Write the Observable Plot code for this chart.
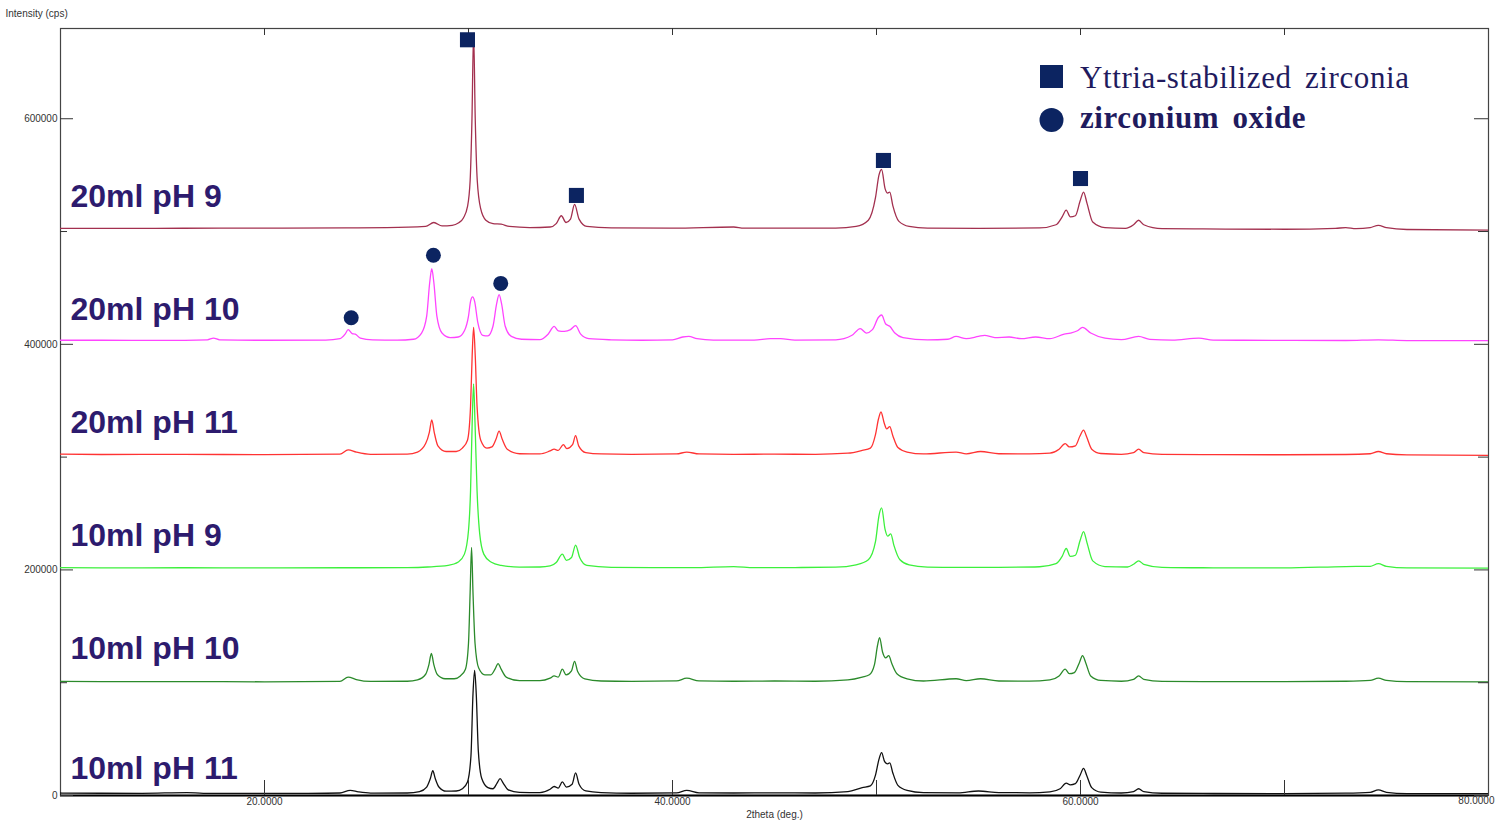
<!DOCTYPE html>
<html>
<head>
<meta charset="utf-8">
<script src="https://cdn.jsdelivr.net/npm/d3@7"></script>
<script src="https://cdn.jsdelivr.net/npm/@observablehq/plot@0.6"></script>
<style>
  html, body { margin: 0; padding: 0; background: #fff; }
  #wrap { position: relative; width: 1495px; height: 830px; overflow: hidden; }
  #overlay { position: absolute; left: 0; top: 0; pointer-events: none; }
</style>
</head>
<body>
<div id="wrap"></div>
<script>
// ---- Data (2theta in degrees, raw intensity in cps) ----
const seriesNames = ["20ml pH 9", "20ml pH 10", "20ml pH 11", "10ml pH 9", "10ml pH 10", "10ml pH 11"];
const offsets = [500000, 400000, 300000, 200000, 100000, 0];
const colors = ["#a3304f", "#ff44ff", "#ff3333", "#3cf03c", "#2b8a2b", "#111111"];

const s20pH9 = [[10,2800],[12,2800],[16,2900],[20,3000],[24,3200],[26,3400],[27.9,4500],[28.3,8000],[28.7,5000],[29.2,5500],[29.5,7500],[29.75,12000],[29.95,22000],[30.08,45000],[30.17,100000],[30.25,176000],[30.33,100000],[30.43,45000],[30.6,20000],[30.85,10000],[31.2,7000],[31.6,6500],[32,4500],[33,3500],[34.0,4000],[34.3,7000],[34.55,14000],[34.78,8000],[35.0,11000],[35.2,24000],[35.42,11000],[35.8,4500],[37,3300],[40,3000],[43.0,4000],[43.5,3000],[46,3000],[48,3100],[49,4500],[49.6,10000],[49.95,30000],[50.12,50000],[50.25,55000],[50.42,38000],[50.55,34000],[50.65,35000],[50.8,23000],[51.1,9000],[51.6,4500],[52.5,3000],[55,2800],[58,3200],[58.8,6000],[59.1,13000],[59.3,19000],[59.5,13000],[59.75,14000],[59.98,27000],[60.15,35000],[60.32,25000],[60.6,8500],[61.2,3500],[62.2,2800],[62.6,6000],[62.85,10000],[63.1,6000],[64,2500],[66,2300],[70,2000],[72.5,2800],[73.0,3500],[73.5,2500],[74.2,3500],[74.6,5500],[75,3500],[76,1800],[80,1300]];

const s20pH10 = [[10,3600],[12,3600],[15,3500],[17.2,4000],[17.5,5500],[17.8,4000],[20,3600],[23,3800],[23.7,5000],[23.95,9000],[24.1,13000],[24.3,9500],[24.45,9000],[24.7,5500],[25.3,4000],[26.5,3700],[27.3,4500],[27.7,10000],[27.95,25000],[28.1,55000],[28.2,67000],[28.3,55000],[28.45,25000],[28.7,10000],[29.1,6000],[29.5,6500],[29.8,12000],[30.0,25000],[30.1,38000],[30.2,42000],[30.3,38000],[30.45,20000],[30.7,8000],[30.95,7500],[31.2,16000],[31.38,36000],[31.5,44000],[31.62,36000],[31.8,16000],[32.1,7000],[32.6,4500],[33.5,4200],[33.9,9000],[34.2,16000],[34.4,12000],[34.7,11500],[35.0,13000],[35.25,16500],[35.5,9000],[35.9,5000],[37,4000],[38.5,3600],[40,4000],[40.5,6500],[40.8,7000],[41.2,5000],[42,3800],[44,3800],[44.8,5000],[45.3,5000],[46,3800],[48,4000],[48.8,8000],[49.2,14000],[49.5,10000],[49.8,13000],[50.1,24000],[50.25,26000],[50.45,18000],[50.65,16000],[50.9,10000],[51.3,6000],[52.5,4000],[53.5,4500],[53.9,7000],[54.4,5000],[55.0,7000],[55.3,8000],[55.8,6000],[56.5,6500],[57.1,5000],[57.8,6500],[58.5,5000],[59.2,9000],[59.5,10000],[59.85,12000],[60.1,15000],[60.5,10000],[61.2,5500],[62,4200],[62.85,7000],[63.4,4300],[64.5,3800],[65.8,5500],[66.5,3800],[68,3600],[70,3500],[73,3400],[74.6,4000],[76,3300],[80,3200]];

const s20pH11 = [[10,2600],[12,2300],[16,2400],[20,2200],[23.7,2600],[24.1,6500],[24.5,4500],[25.2,2500],[27,2700],[27.5,4500],[27.9,12000],[28.08,22000],[28.2,33000],[28.32,22000],[28.5,10000],[28.9,5000],[29.4,5000],[29.7,8000],[29.95,15000],[30.1,45000],[30.18,90000],[30.25,115000],[30.33,90000],[30.42,45000],[30.6,15000],[30.9,8000],[31.15,9000],[31.35,16000],[31.5,23000],[31.65,16000],[31.9,7000],[32.5,3000],[33.5,2800],[34.0,5500],[34.2,7000],[34.4,6000],[34.65,11000],[34.82,7500],[35.1,11000],[35.25,19000],[35.4,10000],[35.75,4000],[36.5,2800],[38,2500],[40.2,2800],[40.7,4500],[41.3,2800],[43,2500],[45,2600],[47,2500],[48.6,3500],[49.3,6000],[49.7,8000],[49.95,20000],[50.1,34000],[50.22,40000],[50.38,30000],[50.5,25000],[50.65,27000],[50.8,19000],[51.05,8500],[51.5,4500],[52.3,2800],[53.9,4500],[54.4,2900],[55.1,5000],[56,3000],[57.5,2800],[58.5,3500],[58.95,7000],[59.25,12000],[59.45,9000],[59.75,10000],[59.98,19000],[60.15,24000],[60.3,18000],[60.55,7000],[61,3200],[62,2500],[62.6,4000],[62.85,7000],[63.1,4000],[64,2400],[66,2200],[70,2100],[73,2300],[74.2,3000],[74.6,5000],[75,3000],[76,2000],[80,1500]];

const s10pH9 = [[10,2000],[12,1800],[16,1900],[20,1800],[24,1900],[27,2100],[28,2600],[29,4000],[29.5,7000],[29.8,14000],[30.0,35000],[30.1,70000],[30.18,130000],[30.25,165000],[30.32,130000],[30.42,70000],[30.55,32000],[30.75,14000],[31.1,7000],[31.6,4000],[32.5,2500],[33.5,2600],[34.0,3500],[34.3,6500],[34.6,14000],[34.8,8500],[35.05,11000],[35.25,22000],[35.45,11000],[35.8,4000],[37,2300],[39,2000],[41,2000],[43,3000],[44,2000],[46,2100],[48,2400],[49,4500],[49.6,9000],[49.95,25000],[50.12,48000],[50.25,55000],[50.42,36000],[50.55,30000],[50.7,32000],[50.85,22000],[51.15,9000],[51.6,4500],[52.5,2500],[54,2200],[56,2300],[58,2800],[58.8,5500],[59.1,12000],[59.3,19000],[59.5,12000],[59.75,13000],[59.98,26000],[60.15,34000],[60.32,24000],[60.6,8000],[61.2,3000],[62.3,2600],[62.6,5000],[62.85,8000],[63.1,5000],[64,2300],[66,1900],[70,1800],[73,3000],[74.2,3200],[74.6,5500],[75,3200],[76,1800],[80,1600]];

const s10pH10 = [[10,1200],[12,900],[16,1000],[20,800],[23.7,1200],[24.1,5000],[24.5,2800],[25.2,1100],[27,1300],[27.5,2500],[27.9,7500],[28.06,16000],[28.18,26000],[28.3,16000],[28.48,7000],[28.85,3500],[29.3,3500],[29.6,6000],[29.85,12000],[30.0,35000],[30.08,80000],[30.15,120000],[30.22,80000],[30.32,35000],[30.5,13000],[30.8,7000],[31.1,7000],[31.3,12000],[31.45,17000],[31.6,12000],[31.85,5000],[32.5,1800],[33.5,1800],[34.0,4000],[34.2,6000],[34.4,5000],[34.6,12000],[34.78,7000],[35.05,10500],[35.2,19000],[35.35,10000],[35.7,3500],[36.5,1500],[38,1200],[40.2,1600],[40.7,4000],[41.3,1600],[43,1300],[45,1500],[47,1300],[48.6,2500],[49.3,5000],[49.65,7000],[49.9,16000],[50.05,33000],[50.15,40000],[50.3,27000],[50.45,22000],[50.6,24000],[50.75,17000],[51.0,8000],[51.5,3500],[52.3,1500],[53.9,3500],[54.4,1800],[55.1,3500],[56,1500],[57.5,1400],[58.5,2500],[58.95,6000],[59.25,12000],[59.45,8000],[59.7,9000],[59.95,18000],[60.1,24000],[60.25,18000],[60.5,6000],[61,2000],[62,1300],[62.6,3000],[62.85,6000],[63.1,3000],[64,1200],[66,1000],[70,900],[73,1300],[74.2,2000],[74.6,4000],[75,2000],[76,900],[80,700]];

const s10pH11 = [[10,2200],[12,2000],[14,1900],[16.2,2600],[17,1900],[20,1800],[22,1900],[23.7,2200],[24.2,4500],[24.6,3200],[25.2,2100],[27,2200],[27.6,3500],[27.95,7500],[28.13,15000],[28.25,22000],[28.37,15000],[28.55,7500],[28.9,3800],[29.4,4000],[29.7,6000],[29.95,12000],[30.12,35000],[30.22,90000],[30.3,111000],[30.38,90000],[30.48,40000],[30.65,15000],[30.95,7000],[31.2,6000],[31.4,11000],[31.55,15000],[31.7,11000],[31.95,5000],[32.5,2800],[33.5,2600],[34.0,5500],[34.2,8000],[34.4,6500],[34.6,12000],[34.8,7500],[35.08,10000],[35.25,20000],[35.42,10000],[35.75,4000],[36.5,2500],[38,2000],[40.2,2300],[40.7,4500],[41.3,2400],[43,2200],[45,2300],[47,2200],[48.6,3500],[49.3,7000],[49.7,8500],[49.95,18000],[50.12,32000],[50.25,38000],[50.4,30000],[50.55,28000],[50.65,29000],[50.8,20000],[51.05,9000],[51.5,4500],[52.3,2500],[54,2300],[55,4000],[56,2600],[57.5,2400],[58.5,3200],[59.0,6000],[59.3,11000],[59.5,9500],[59.75,10500],[59.98,18000],[60.15,24000],[60.3,18000],[60.55,7000],[61,3000],[62,2200],[62.6,3500],[62.85,6000],[63.1,3500],[64,2000],[66,1800],[70,1700],[73,2100],[74.2,2800],[74.6,5000],[75,2800],[76,1700],[80,1600]];

const patterns = [s20pH9, s20pH10, s20pH11, s10pH9, s10pH10, s10pH11];

// phase markers (2theta, plotted intensity)
const yszMarks = [[29.95, 670000], [35.29, 532000], [50.34, 563000], [60.0, 547000]];
const zro2Marks = [[24.25, 423500], [28.28, 479000], [31.58, 454000]];

const xTickLabels = [20, 40, 60];
const xLastLabel = [80];
const xTickMarks = [20, 30, 40, 50, 60, 70];
const yTickLabels = [0, 200000, 400000, 600000];
const yMinorTicks = [100000, 300000, 500000];
const legendLabels = ["Yttria-stabilized zirconia", "zirconium oxide"];

// ---- build table ----
const rows = patterns.flatMap((pts, i) =>
  pts.map(([t, c]) => ({series: seriesNames[i], theta: t, intensity: c + offsets[i]}))
);
const labelRows = seriesNames.map((name, i) => ({name, y: offsets[i] + (i === 5 ? 24000 : 30500)}));

const W = 1495, H = 830;
const yMax = 680000;
const pxY = yMax / 767;   // data units per pixel (vertical)
const pxX = 70 / 1428;    // data units per pixel (horizontal)
const ink = "#2d1b6e";
const marker = "#0c2461";

const chart = Plot.plot({
  width: W,
  height: H,
  marginLeft: 60,
  marginRight: 7,
  marginTop: 28,
  marginBottom: 35,
  style: {fontFamily: "'Liberation Sans', Arial, sans-serif", background: "#fff"},
  x: {domain: [10, 80]},
  y: {domain: [0, yMax]},
  color: {domain: seriesNames, range: colors},
  marks: [
    Plot.frame({stroke: "#444", strokeWidth: 1.2}),
    Plot.line(rows, {x: "theta", y: "intensity", z: "series", stroke: "series", strokeWidth: 1.3, curve: "monotone-x", clip: true}),
    Plot.ruleY([0], {stroke: "#000", strokeWidth: 2}),
    // inward ticks
    Plot.ruleY(yTickLabels, {x1: 10, x2: 10 + 13 * pxX, stroke: "#333"}),
    Plot.ruleY(yTickLabels, {x1: 80 - 14 * pxX, x2: 80, stroke: "#333"}),
    Plot.ruleY(yMinorTicks, {x1: 10, x2: 10 + 7 * pxX, stroke: "#333"}),
    Plot.ruleY(yMinorTicks, {x1: 80 - 10 * pxX, x2: 80, stroke: "#333"}),
    Plot.ruleX(xTickMarks, {y1: 0, y2: 15 * pxY, stroke: "#333"}),
    Plot.ruleX(xTickMarks, {y1: yMax, y2: yMax - 7 * pxY, stroke: "#333"}),
    Plot.axisY({ticks: yTickLabels, tickFormat: d => String(d), tickSize: 0, tickPadding: 3, fontSize: 10, color: "#333", label: null}),
    Plot.axisX({ticks: xTickLabels, tickFormat: d => d.toFixed(4), tickSize: 0, tickPadding: 2, fontSize: 10, color: "#333", label: null}),
    Plot.text(xLastLabel, {x: d => d, frameAnchor: "bottom", dy: 8, dx: 6, textAnchor: "end", text: d => d.toFixed(4), fontSize: 10, fill: "#333"}),
    Plot.text(["2theta (deg.)"], {frameAnchor: "bottom", dy: 22, fontSize: 10, fill: "#333"}),
    Plot.text(["Intensity (cps)"], {frameAnchor: "top-left", dx: -55, dy: -19, textAnchor: "start", fontSize: 10, fill: "#333"}),
    // series labels
    Plot.text(labelRows, {x: 10, y: "y", text: "name", dx: 10, textAnchor: "start", fontSize: 32, fontWeight: "bold", fill: ink}),
    // phase markers
    Plot.dot(yszMarks, {x: d => d[0], y: d => d[1], symbol: "square", r: 8.5, fill: marker, stroke: "none"}),
    Plot.dot(zro2Marks, {x: d => d[0], y: d => d[1], symbol: "circle", r: 7.5, fill: marker, stroke: "none"})
  ]
});

const wrap = document.getElementById("wrap");
wrap.appendChild(chart);

// legend overlay
const ns = "http://www.w3.org/2000/svg";
const ov = document.createElementNS(ns, "svg");
ov.setAttribute("id", "overlay");
ov.setAttribute("width", W);
ov.setAttribute("height", H);
const sq = document.createElementNS(ns, "rect");
sq.setAttribute("x", 1040); sq.setAttribute("y", 65); sq.setAttribute("width", 23); sq.setAttribute("height", 23);
sq.setAttribute("fill", marker);
ov.appendChild(sq);
const ci = document.createElementNS(ns, "circle");
ci.setAttribute("cx", 1051.5); ci.setAttribute("cy", 120); ci.setAttribute("r", 12);
ci.setAttribute("fill", marker);
ov.appendChild(ci);
legendLabels.forEach((t, i) => {
  const tx = document.createElementNS(ns, "text");
  tx.setAttribute("x", 1080);
  tx.setAttribute("y", i === 0 ? 88 : 128);
  tx.setAttribute("font-family", "'Liberation Serif', 'Times New Roman', serif");
  tx.setAttribute("font-size", 31);
  tx.setAttribute("word-spacing", 5);
  tx.setAttribute("letter-spacing", 0.6);
  tx.setAttribute("fill", "#1f1b5e");
  if (i === 1) tx.setAttribute("font-weight", "bold");
  tx.textContent = t;
  ov.appendChild(tx);
});
wrap.appendChild(ov);
</script>
</body>
</html>
